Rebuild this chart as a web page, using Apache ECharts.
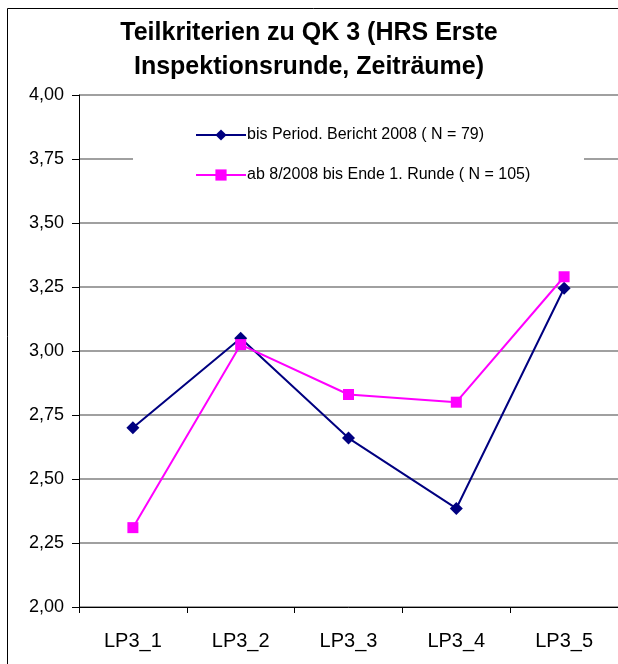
<!DOCTYPE html>
<html>
<head>
<meta charset="utf-8">
<script src="https://cdn.jsdelivr.net/npm/echarts@6/dist/echarts.min.js"></script>
<style>
  html, body { margin: 0; padding: 0; background: #fff; }
  #chart { width: 618px; height: 664px; }
</style>
</head>
<body>
<div id="chart"></div>
<script>
var categories = ['LP3_1', 'LP3_2', 'LP3_3', 'LP3_4', 'LP3_5']
var seriesNames = ['bis Period. Bericht 2008 ( N = 79)', 'ab 8/2008 bis Ende 1. Runde ( N = 105)']
var bisBericht = [2.70, 3.05, 2.66, 2.385, 3.245]
var abAugust = [2.31, 3.025, 2.83, 2.80, 3.29]
var yTicks = { min: 2, max: 4, interval: 0.25 }

var font = '"Liberation Sans", Arial, sans-serif'
var chart = echarts.init(document.getElementById('chart'))

chart.setOption({
  animation: false,
  backgroundColor: '#fff',
  title: {
    text: 'Teilkriterien zu QK 3 (HRS Erste\nInspektionsrunde, Zeiträume)',
    left: 'center',
    top: 11,
    textStyle: {
      fontFamily: font,
      fontSize: 25,
      fontWeight: 'bold',
      color: '#000',
      lineHeight: 34
    }
  },
  graphic: [
    {
      // outer chart frame (partly cut off at right/bottom)
      type: 'rect',
      z: 0,
      shape: { x: 7.5, y: 8.5, width: 640, height: 700 },
      style: { fill: 'none', stroke: '#000', lineWidth: 1 }
    },
    {
      // white legend box hiding the grid line
      type: 'rect',
      z: 3,
      shape: { x: 133, y: 112, width: 451, height: 78 },
      style: { fill: '#fff' }
    }
  ],
  legend: {
    orient: 'vertical',
    left: 190,
    top: 122,
    itemWidth: 50,
    itemHeight: 14,
    itemGap: 24,
    z: 5,
    textStyle: { fontFamily: font, fontSize: 16, color: '#000', padding: [0, 0, 0, -4] },
    data: seriesNames
  },
  grid: {
    left: 79,
    top: 95,
    width: 545,
    bottom: 57
  },
  xAxis: {
    type: 'category',
    data: categories,
    boundaryGap: true,
    axisLine: { lineStyle: { color: '#000', width: 1 } },
    axisTick: { show: true, length: 6, inside: false, lineStyle: { color: '#000' } },
    axisLabel: { fontFamily: font, fontSize: 20, color: '#000', margin: 24 }
  },
  yAxis: {
    type: 'value',
    min: yTicks.min,
    max: yTicks.max,
    interval: yTicks.interval,
    axisLine: { show: true, lineStyle: { color: '#000', width: 1 } },
    axisTick: { show: true, length: 7, lineStyle: { color: '#000' } },
    axisLabel: {
      fontFamily: font,
      fontSize: 18,
      color: '#000',
      margin: 15,
      formatter: function (v) { return v.toFixed(2).replace('.', ',') }
    },
    splitLine: { show: true, lineStyle: { color: '#808080', width: 1.5 } }
  },
  series: [
    {
      name: seriesNames[0],
      type: 'line',
      data: bisBericht,
      z: 4,
      symbol: 'diamond',
      symbolSize: 13,
      itemStyle: { color: '#000080' },
      lineStyle: { color: '#000080', width: 2 }
    },
    {
      name: seriesNames[1],
      type: 'line',
      data: abAugust,
      z: 4,
      symbol: 'rect',
      symbolSize: 11,
      itemStyle: { color: '#FF00FF' },
      lineStyle: { color: '#FF00FF', width: 2 }
    }
  ]
})
</script>
</body>
</html>
